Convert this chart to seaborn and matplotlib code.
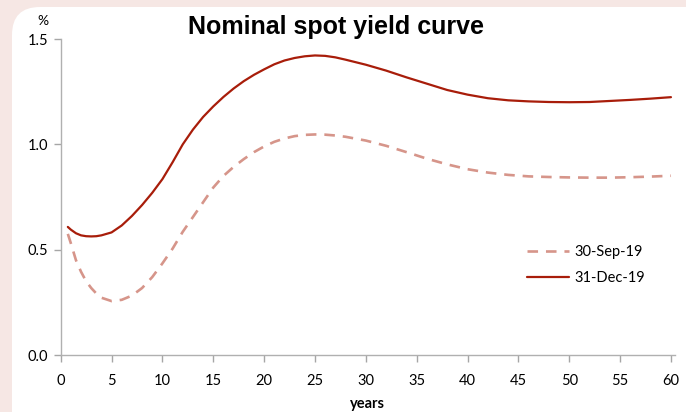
import pandas as pd
import numpy as np
import matplotlib.pyplot as plt
import matplotlib.patches as mpatches
from matplotlib.transforms import IdentityTransform
import seaborn as sns

# data
years = [0.7, 1, 1.5, 2, 2.5, 3, 3.5, 4, 5, 6, 7, 8, 9, 10, 11, 12, 13, 14, 15, 16,
         17, 18, 19, 20, 21, 22, 23, 24, 25, 26, 27, 28, 30, 32, 34, 36, 38, 40,
         42, 44, 46, 48, 50, 52, 54, 56, 58, 60]
sep19 = [0.575, 0.53, 0.45, 0.395, 0.35, 0.318, 0.292, 0.272, 0.256, 0.262, 0.282,
         0.318, 0.37, 0.435, 0.505, 0.585, 0.655, 0.725, 0.795, 0.85, 0.893, 0.93,
         0.963, 0.99, 1.012, 1.028, 1.039, 1.045, 1.047, 1.046, 1.042, 1.036, 1.018,
         0.993, 0.963, 0.932, 0.905, 0.882, 0.866, 0.855, 0.848, 0.845, 0.843,
         0.842, 0.842, 0.844, 0.847, 0.851]
dec19 = [0.608, 0.595, 0.578, 0.568, 0.564, 0.563, 0.564, 0.568, 0.582, 0.615, 0.66,
         0.712, 0.77, 0.835, 0.915, 1.0, 1.07, 1.13, 1.18, 1.225, 1.265, 1.30,
         1.33, 1.356, 1.38, 1.398, 1.41, 1.418, 1.422, 1.42, 1.413, 1.402, 1.378,
         1.35, 1.318, 1.288, 1.258, 1.236, 1.219, 1.209, 1.204, 1.201, 1.2,
         1.201, 1.206, 1.211, 1.217, 1.224]
series_names = ['30-Sep-19', '31-Dec-19']
xticks = list(range(0, 61, 5))
yticks = [0.0, 0.5, 1.0, 1.5]

sns.set_theme(style='white')
plt.rcParams['font.family'] = ['Lato', 'DejaVu Sans']
plt.rcParams['text.color'] = 'black'

df = pd.DataFrame({'years': years, series_names[0]: sep19, series_names[1]: dec19})

fig = plt.figure(figsize=(6.86, 4.12), dpi=100, facecolor='#f6e7e4')

# white rounded panel
panel = mpatches.FancyBboxPatch((12, -60), 720, 465,
                                boxstyle='round,pad=0,rounding_size=28',
                                transform=IdentityTransform(),
                                facecolor='white', edgecolor='none', zorder=-5)
fig.patches.append(panel)

ax = fig.add_axes([0.0885, 0.1383, 0.8955, 0.767])
ax.set_facecolor('none')

sns.lineplot(data=df, x='years', y=series_names[0], ax=ax, color='#d6958a',
             linestyle=(0, (4, 3)), linewidth=1.9, label=series_names[0])
sns.lineplot(data=df, x='years', y=series_names[1], ax=ax, color='#a81d0a',
             linewidth=1.6, label=series_names[1])

ax.set_xlim(0, 60.4)
ax.set_ylim(0, 1.5)
ax.set_xticks(xticks)
ax.set_yticks(yticks)
ax.set_yticklabels([f'{v:.1f}' for v in yticks])
ax.tick_params(axis='both', labelsize=10.5, colors='#a6a6a6', labelcolor='black',
               length=5, width=1, direction='out', bottom=True, left=True)
ax.tick_params(axis='x', pad=9)
ax.tick_params(axis='y', pad=4)
for side in ['top', 'right']:
    ax.spines[side].set_visible(False)
for side in ['left', 'bottom']:
    ax.spines[side].set_color('#b0b0b0')
    ax.spines[side].set_linewidth(1)
ax.set_xlabel('years', fontsize=10.5, fontweight='bold', labelpad=6, color='black')
ax.set_ylabel('')

ax.legend(loc='center left', bbox_to_anchor=(0.737, 0.285), frameon=False,
          fontsize=10.5, handlelength=2.9, handletextpad=0.4, labelspacing=0.85)

fig.text(0.49, 0.935, 'Nominal spot yield curve', ha='center', va='center',
         fontsize=18, fontweight='bold', color='black',
         family=['Liberation Sans', 'DejaVu Sans'])
fig.text(0.062, 0.95, '%', ha='center', va='center', fontsize=10, color='black')

fig.savefig('out.png', dpi=100, facecolor=fig.get_facecolor())
